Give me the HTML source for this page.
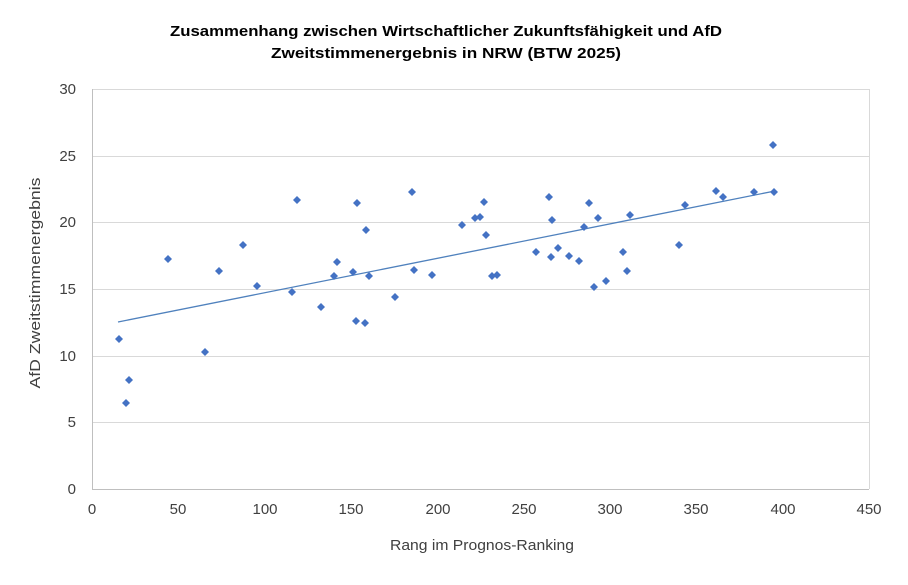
<!DOCTYPE html>
<html><head><meta charset="utf-8"><style>
body{margin:0;background:#fff;}
svg text{font-family:"Liberation Sans",Arial,sans-serif;fill:#404040;}
</style></head><body>
<svg width="908" height="580" xmlns="http://www.w3.org/2000/svg">
<rect width="908" height="580" fill="#fff"/>
<text x="446" y="36" text-anchor="middle" font-size="15" font-weight="bold" style="fill:#000" textLength="552" lengthAdjust="spacingAndGlyphs">Zusammenhang zwischen Wirtschaftlicher Zukunftsfähigkeit und AfD</text>
<text x="446" y="58" text-anchor="middle" font-size="15" font-weight="bold" style="fill:#000" textLength="350" lengthAdjust="spacingAndGlyphs">Zweitstimmenergebnis in NRW (BTW 2025)</text>
<g stroke="#d9d9d9" stroke-width="1">
<line x1="92" y1="89.5" x2="869" y2="89.5"/>
<line x1="92" y1="156.5" x2="869" y2="156.5"/>
<line x1="92" y1="222.5" x2="869" y2="222.5"/>
<line x1="92" y1="289.5" x2="869" y2="289.5"/>
<line x1="92" y1="356.5" x2="869" y2="356.5"/>
<line x1="92" y1="422.5" x2="869" y2="422.5"/>
<line x1="869.5" y1="89" x2="869.5" y2="489"/>
</g>
<line x1="92" y1="489.5" x2="869" y2="489.5" stroke="#bfbfbf"/>
<line x1="92.5" y1="89" x2="92.5" y2="489" stroke="#bfbfbf"/>
<g font-size="15" text-anchor="end">
<text x="76" y="94">30</text><text x="76" y="161">25</text><text x="76" y="227">20</text>
<text x="76" y="294">15</text><text x="76" y="361">10</text><text x="76" y="427">5</text><text x="76" y="494">0</text>
</g>
<g font-size="15" text-anchor="middle">
<text x="92" y="514">0</text><text x="178" y="514">50</text><text x="265" y="514">100</text>
<text x="351" y="514">150</text><text x="438" y="514">200</text><text x="524" y="514">250</text>
<text x="610" y="514">300</text><text x="696" y="514">350</text><text x="783" y="514">400</text><text x="869" y="514">450</text>
</g>
<text x="482" y="550" text-anchor="middle" font-size="15" textLength="184" lengthAdjust="spacingAndGlyphs">Rang im Prognos-Ranking</text>
<text transform="translate(40,283) rotate(-90)" text-anchor="middle" font-size="15" textLength="211" lengthAdjust="spacingAndGlyphs">AfD Zweitstimmenergebnis</text>
<line x1="118" y1="322" x2="775" y2="191" stroke="#4f81bd" stroke-width="1.3"/>
<g fill="#4472c4" id="pts"></g>
</svg>
<script>
var p=[[119,339],[126,403],[129,380],[168,259],[205,352],[219,271],[243,245],[257,286],[292,292],[297,200],[321,307],[334,276],[337,262],[353,272],[356,321],[357,203],[365,323],[366,230],[369,276],[395,297],[412,192],[414,270],[432,275],[462,225],[475,218],[480,217],[484,202],[486,235],[492,276],[497,275],[536,252],[549,197],[551,257],[552,220],[558,248],[569,256],[579,261],[584,227],[589,203],[594,287],[598,218],[606,281],[623,252],[627,271],[630,215],[679,245],[685,205],[716,191],[723,197],[754,192],[773,145],[774,192]];
var g=document.getElementById('pts'),s='';
p.forEach(function(a){s+='<polygon points="'+a[0]+','+(a[1]-4)+' '+(a[0]+4)+','+a[1]+' '+a[0]+','+(a[1]+4)+' '+(a[0]-4)+','+a[1]+'"/>';});
g.innerHTML=s;
</script>
</body></html>
